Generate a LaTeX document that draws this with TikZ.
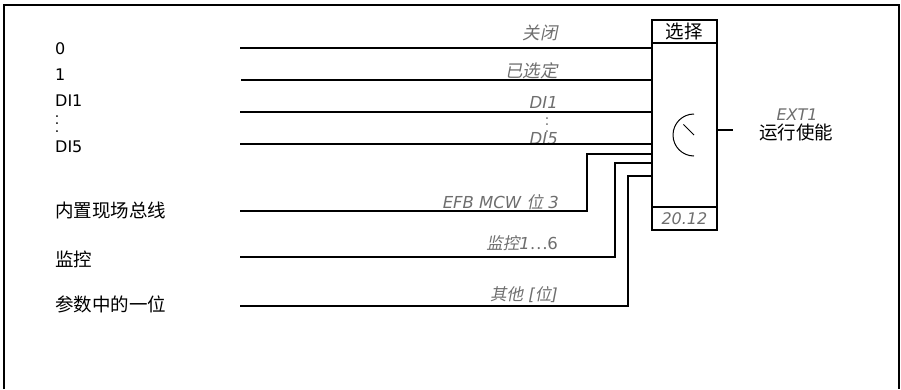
\documentclass[tikz,border=0pt]{standalone}
\usepackage{fontspec}
\setmainfont{DejaVu Sans}
\newfontfamily\cjk{Noto Sans CJK SC}
\newfontfamily\cjkit{Noto Sans CJK SC}[FakeSlant=0.2]
\definecolor{lblgray}{HTML}{6E6E6E}
\tikzset{
  wire/.style={line width=1.8pt},
  frameline/.style={line width=1.4pt},
  lbl/.style={anchor=west, inner sep=0pt, font=\fontsize{16}{18}\selectfont},
  lblc/.style={anchor=west, inner sep=0pt, font=\cjk\fontsize{18.5}{20}\selectfont},
  sig/.style={anchor=east, inner sep=0pt, text=lblgray, font=\fontsize{16.5}{18}\selectfont\itshape},
  sigc/.style={anchor=east, inner sep=0pt, text=lblgray, font=\cjkit\fontsize{17.5}{19}\selectfont},
  vdotsbox/.style={inner sep=0pt, align=center, font=\fontsize{14}{6.5}\selectfont},
}
\begin{document}
\begin{tikzpicture}[x=1pt,y=-1pt]
\useasboundingbox (0,0) rectangle (901,389);
% frame (open at bottom)
\draw[frameline] (4,389) -- (4,5) -- (899,5) -- (899,389);

% selector box
\node[draw, line width=1.8pt, minimum width=65pt, minimum height=210pt, inner sep=0pt, anchor=north west] (box) at (651,19) {};
\draw[wire] ([yshift=-24pt]box.north west) -- ([yshift=-24pt]box.north east);
\draw[wire] ([yshift=24pt]box.south west) -- ([yshift=24pt]box.south east);
\node[inner sep=0pt, font=\cjk\fontsize{18.5}{20}\selectfont] (hdr) at ([yshift=-12pt]box.north) {选择};
\node[inner sep=0pt, text=lblgray, font=\fontsize{16}{18}\selectfont\itshape] (ftr) at ([yshift=12pt]box.south) {20.12};

% dial
\coordinate (dc) at (694,135);
\draw[line width=1pt] ([yshift=21pt]dc) arc[start angle=90, end angle=270, radius=21pt];
\draw[line width=1pt] (dc) -- ++(135:15pt);

% output
\coordinate (outR) at (733,130);
\draw[wire] (outR -| box.east) -- (outR);
\node[inner sep=0pt, text=lblgray, font=\fontsize{16}{18}\selectfont\itshape] (ext) at (797,115) {EXT1};
\node[inner sep=0pt, font=\cjk\fontsize{18.5}{20}\selectfont] (run) at (796,132) {运行使能};

% left labels
\node[lbl] (t0) at (55,49) {0};
\node[lbl] (t1) at (55,75) {1};
\node[lbl] (tDI1) at (55,101) {DI1};
\node[vdotsbox, font=\fontsize{14}{7.5}\selectfont] (tdots) at (57,124) {.\\.\\.};
\node[lbl] (tDI5) at (55,147) {DI5};
\node[lblc] (tEFB) at (55,210) {内置现场总线};
\node[lblc] (tSup) at (55,259) {监控};
\node[lblc] (tPar) at (55,304) {参数中的一位};

% signal labels
\node[sigc] (lOff) at (558,33) {关闭};
\node[sigc] (lSel) at (558,71) {已选定};
\node[sig] (lDI1) at (558,102) {DI1};
\node[vdotsbox, text=lblgray] (ldots) at (547,125) {.\\.\\.};
\node[sig] (lDI5) at (558,139) {DI5};
\node[sig] (lEFB) at (559,202) {EFB MCW {\cjkit 位} 3};
\node[sig] (lSup) at (558,243) {{\cjkit 监控}1{\upshape\cjk …}\upshape 6};
\node[sig] (lOth) at (558,295) {{\cjkit 其他} [{\cjkit 位}]};

% input wires
\coordinate (i0) at (240,47.7);
\coordinate (i1) at (241,80.3);
\coordinate (i2) at (240,111.7);
\coordinate (i3) at (240,144.3);
\draw[wire] (i0) -- (i0 -| box.west);
\draw[wire] (i1) -- (i1 -| box.west);
\draw[wire] (i2) -- (i2 -| box.west);
\draw[wire] (i3) -- (i3 -| box.west);

\coordinate (i4) at (240,211);
\coordinate (b4) at (587,154);
\draw[wire] (i4) -| (b4) -- (b4 -| box.west);
\coordinate (i5) at (240,256.7);
\coordinate (b5) at (615,163.3);
\draw[wire] (i5) -| (b5) -- (b5 -| box.west);
\coordinate (i6) at (240,305.7);
\coordinate (b6) at (628,176);
\draw[wire] (i6) -| (b6) -- (b6 -| box.west);
\end{tikzpicture}
\end{document}
